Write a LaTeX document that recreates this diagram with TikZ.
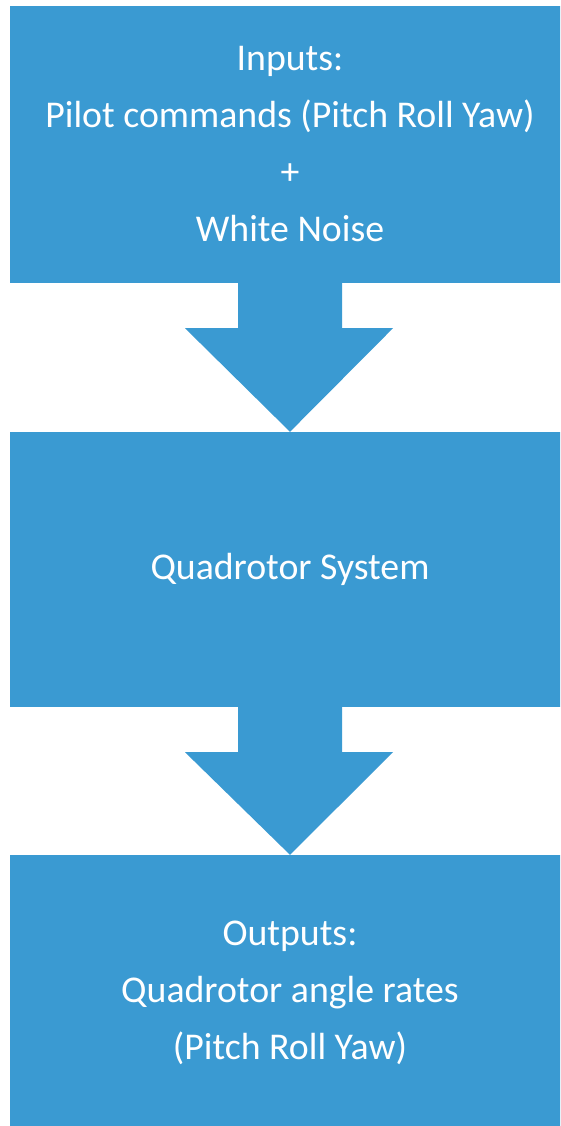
\documentclass[tikz,border=0pt]{standalone}
\usepackage{fontspec}
\setmainfont{Carlito}
\usetikzlibrary{positioning,calc}
\definecolor{boxblue}{RGB}{58,154,210}

\begin{document}
\begin{tikzpicture}[x=1pt,y=-1pt,
	block/.style={ fill=boxblue, text=white, minimum width=560pt, inner sep=0pt, align=center, font=\fontsize{37.8}{57}\selectfont },
	blockarrow/.style={ fill=boxblue }
]
\useasboundingbox (0,0) rectangle (560,1126);
\clip (0,0) rectangle (560,1126);

\node at (290,144.5) (inputs) [block,minimum height=277pt] {Inputs:\\Pilot commands (Pitch Roll Yaw)\\+\\White Noise};
\node at (290,569.5) (system) [block,minimum height=275pt] {Quadrotor System};
\node at (290,993) (outputs) [block,minimum height=276pt] {Outputs:\\Quadrotor angle rates\\(Pitch Roll Yaw)};

% block arrows between the boxes
\fill[blockarrow] ($(inputs.south)+(-52,0)$) -- ($(inputs.south)+(52,0)$) -- ($(inputs.south)+(52,45)$) -- ($(inputs.south)+(103,45)$) -- (system.north) -- ($(inputs.south)+(-105,45)$) -- ($(inputs.south)+(-52,45)$) -- cycle;
\fill[blockarrow] ($(system.south)+(-52,0)$) -- ($(system.south)+(52,0)$) -- ($(system.south)+(52,45)$) -- ($(system.south)+(103,45)$) -- (outputs.north) -- ($(system.south)+(-105,45)$) -- ($(system.south)+(-52,45)$) -- cycle;

\end{tikzpicture}
\end{document}
